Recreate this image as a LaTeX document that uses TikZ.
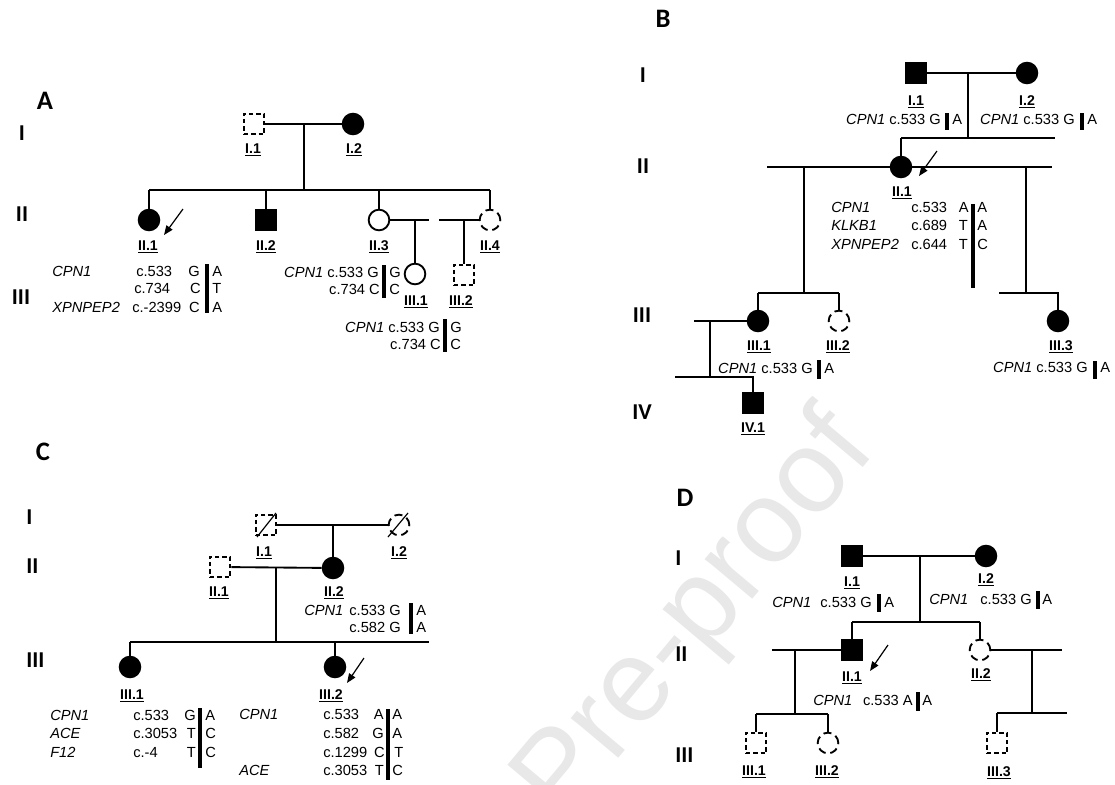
\documentclass[tikz,border=0pt]{standalone}
\usepackage{fontspec}
\setmainfont{Liberation Sans}
\newfontfamily\carl{Carlito}
\usetikzlibrary{arrows.meta}
\newcommand\gfont{\fontsize{11}{13}\selectfont}
\newcommand\lfont{\bfseries\fontsize{10.6}{12}\selectfont}
\newcommand\nfont{\carl\bfseries\fontsize{17}{20}\selectfont}
\newcommand\pfont{\carl\bfseries\fontsize{20}{24}\selectfont}
\tikzset{
  ln/.style={line width=1.4pt},
  sq/.style={rectangle, minimum size=15.5pt, inner sep=0pt, line width=1.4pt},
  fsq/.style={sq, draw, fill=black},
  dsq/.style={sq, draw, dash pattern=on 3.4pt off 2.2pt},
  ci/.style={circle, minimum size=15.5pt, inner sep=0pt, line width=1.4pt},
  fci/.style={ci, draw, fill=black},
  oci/.style={ci, draw},
  dci/.style={ci, draw, dash pattern=on 6pt off 3.5pt},
  lab/.style={font=\lfont, inner sep=0pt, anchor=base},
  gw/.style={font=\gfont, inner sep=0pt, anchor=base west},
  ge/.style={font=\gfont, inner sep=0pt, anchor=base east},
  gi/.style={font=\gfont\itshape, inner sep=0pt, anchor=base west},
  gbar/.style={line width=2.6pt},
  gnum/.style={font=\nfont, inner sep=0pt},
  pan/.style={font=\pfont, inner sep=0pt},
  arr/.style={line width=0.9pt, -{Triangle[length=7pt,width=5.5pt]}},
  slash/.style={line width=0.9pt},
  wm/.style={font=\fontsize{88}{90}\selectfont, text=black!9, inner sep=0pt}
}
\begin{document}
\begin{tikzpicture}[x=0.75pt,y=-0.75pt]
\useasboundingbox (0,0) rectangle (1115,785);
\begin{scope}
\clip (0,0) rectangle (1115,785);
\node[wm, rotate=50] (wm) at (697,618) {Pre-proof};
\end{scope}

% ================= Panel A =================
\node[pan] (A) at (45,101) {A};
\node[gnum] (A-gI) at (22,133) {I};
\node[gnum] (A-gII) at (22,214) {II};
\node[gnum] (A-gIII) at (21,297) {III};

\node[dsq] (A-I1) at (254,124) {};
\node[fci] (A-I2) at (353,124) {};
\node[fci] (A-II1) at (149,220) {};
\node[fsq] (A-II2) at (266,220) {};
\node[oci] (A-II3) at (379,220) {};
\node[dci] (A-II4) at (490,220) {};
\node[oci] (A-III1) at (415,274) {};
\node[dsq] (A-III2) at (464,275) {};

\coordinate (A-m1) at (304,124);
\coordinate (A-s) at (304,190);
\coordinate (A-m3e) at (429,220);
\coordinate (A-m4s) at (439,220);
\coordinate (A-d3) at (415,220);
\coordinate (A-d4) at (464,220);
\draw[ln] (A-I1) -- (A-I2);
\draw[ln] (A-m1) -- (A-s);
\draw[ln] (A-II1 |- A-s) -- (A-II4 |- A-s);
\draw[ln] (A-II1 |- A-s) -- (A-II1);
\draw[ln] (A-II2 |- A-s) -- (A-II2);
\draw[ln] (A-II3 |- A-s) -- (A-II3);
\draw[ln] (A-II4 |- A-s) -- (A-II4);
\draw[ln] (A-II3) -- (A-m3e);
\draw[ln] (A-m4s) -- (A-II4);
\draw[ln] (A-d3) -- (A-III1);
\draw[ln] (A-d4) -- (A-III2);
\coordinate (A-arS) at (183,209);
\coordinate (A-arE) at (164,235);
\draw[arr] (A-arS) -- (A-arE);

\node[lab] (A-lI1) at (253,153) {\underline{I.1}};
\node[lab] (A-lI2) at (354,153) {\underline{I.2}};
\node[lab] (A-lII1) at (148,250) {\underline{II.1}};
\node[lab] (A-lII2) at (266,250) {\underline{II.2}};
\node[lab] (A-lII3) at (379,250) {\underline{II.3}};
\node[lab] (A-lII4) at (490,250) {\underline{II.4}};
\node[lab] (A-lIII1) at (416,305) {\underline{III.1}};
\node[lab] (A-lIII2) at (461,305) {\underline{III.2}};

% genotype II.1
\node[gi] (A-g1a) at (52,276) {CPN1};
\node[gw] (A-g1b) at (136,276) {c.533};
\node[ge] (A-g1c) at (200,276) {G};
\node[gw] (A-g1d) at (212,276) {A};
\node[gw] (A-g2b) at (134,293) {c.734};
\node[ge] (A-g2c) at (201,293) {C};
\node[gw] (A-g2d) at (212,293) {T};
\node[gi] (A-g3a) at (52,312) {XPNPEP2};
\node[gw] (A-g3b) at (132,312) {c.-2399};
\node[ge] (A-g3c) at (200,312) {C};
\node[gw] (A-g3d) at (212,312) {A};
\coordinate (A-b1t) at (207,264);
\coordinate (A-b1b) at (207,313);
\draw[gbar] (A-b1t) -- (A-b1b);
% genotype II.3
\node[ge] (A-h1) at (379,277) {\textit{CPN1} c.533 G};
\node[gw] (A-h1r) at (389,277) {G};
\node[ge] (A-h2) at (380,294) {c.734 C};
\node[gw] (A-h2r) at (389,294) {C};
\coordinate (A-b2t) at (384,265);
\coordinate (A-b2b) at (384,298);
\draw[gbar] (A-b2t) -- (A-b2b);
% genotype III.1
\node[ge] (A-k1) at (440,332) {\textit{CPN1} c.533 G};
\node[gw] (A-k1r) at (450,332) {G};
\node[ge] (A-k2) at (441,349) {c.734 C};
\node[gw] (A-k2r) at (450,349) {C};
\coordinate (A-b3t) at (445,319);
\coordinate (A-b3b) at (445,352);
\draw[gbar] (A-b3t) -- (A-b3b);

% ================= Panel B =================
\node[pan] (B) at (663,19) {B};
\node[gnum] (B-gI) at (643,75) {I};
\node[gnum] (B-gII) at (643,166) {II};
\node[gnum] (B-gIII) at (642,315) {III};
\node[gnum] (B-gIV) at (642,412) {IV};

\node[fsq] (B-I1) at (916,73) {};
\node[fci] (B-I2) at (1027,73) {};
\node[fci] (B-II1) at (901,167) {};
\node[fci] (B-III1) at (758,321) {};
\node[dci] (B-III2) at (839,321) {};
\node[fci] (B-III3) at (1058,321) {};
\node[fsq] (B-IV1) at (753,403) {};

\coordinate (B-m1) at (968,73);
\coordinate (B-s1) at (968,138);
\coordinate (B-s1L) at (901,138);
\coordinate (B-s1R) at (1055,138);
\coordinate (B-IIL) at (767,167);
\coordinate (B-IIR) at (1052,167);
\coordinate (B-dL) at (804,167);
\coordinate (B-sL) at (804,293);
\coordinate (B-dR) at (1026,167);
\coordinate (B-sR) at (1026,293);
\coordinate (B-sRL) at (999,293);
\coordinate (B-m3L) at (694,321);
\coordinate (B-d3) at (710,321);
\coordinate (B-s4) at (710,377);
\coordinate (B-s4L) at (675,377);
\draw[ln] (B-I1) -- (B-I2);
\draw[ln] (B-m1) -- (B-s1);
\draw[ln] (B-s1L) -- (B-s1R);
\draw[ln] (B-s1L) -- (B-II1);
\draw[ln] (B-IIL) -- (B-II1);
\draw[ln] (B-II1) -- (B-IIR);
\draw[ln] (B-dL) -- (B-sL);
\draw[ln] (B-III1 |- B-sL) -- (B-III2 |- B-sL);
\draw[ln] (B-III1 |- B-sL) -- (B-III1);
\draw[ln] (B-III2 |- B-sL) -- (B-III2);
\draw[ln] (B-dR) -- (B-sR);
\draw[ln] (B-sRL) -- (B-III3 |- B-sR) -- (B-III3);
\draw[ln] (B-III1) -- (B-m3L);
\draw[ln] (B-d3) -- (B-s4);
\draw[ln] (B-s4L) -- (B-IV1 |- B-s4) -- (B-IV1);
\coordinate (B-arS) at (937,151);
\coordinate (B-arE) at (919,176);
\draw[arr] (B-arS) -- (B-arE);

\node[lab] (B-lI1) at (916,105) {\underline{I.1}};
\node[lab] (B-lI2) at (1027,105) {\underline{I.2}};
\node[lab] (B-lII1) at (902,196) {\underline{II.1}};
\node[lab] (B-lIII1) at (759,350) {\underline{III.1}};
\node[lab] (B-lIII2) at (838,350) {\underline{III.2}};
\node[lab] (B-lIII3) at (1061,350) {\underline{III.3}};
\node[lab] (B-lIV1) at (753,432) {\underline{IV.1}};

\node[ge] (B-g1) at (941,124) {\textit{CPN1} c.533 G};
\node[gw] (B-g1r) at (952,124) {A};
\coordinate (B-b1t) at (947,113);
\coordinate (B-b1b) at (947,130);
\draw[gbar] (B-b1t) -- (B-b1b);
\node[ge] (B-g2) at (1075,124) {\textit{CPN1} c.533 G};
\node[gw] (B-g2r) at (1087,124) {A};
\coordinate (B-b2t) at (1082,113);
\coordinate (B-b2b) at (1082,130);
\draw[gbar] (B-b2t) -- (B-b2b);

\node[gi] (B-h1a) at (831,212) {CPN1};
\node[gw] (B-h1b) at (911,212) {c.533};
\node[ge] (B-h1c) at (969,212) {A};
\node[gw] (B-h1d) at (977,212) {A};
\node[gi] (B-h2a) at (831,230) {KLKB1};
\node[gw] (B-h2b) at (911,230) {c.689};
\node[ge] (B-h2c) at (968,230) {T};
\node[gw] (B-h2d) at (977,230) {A};
\node[gi] (B-h3a) at (831,249) {XPNPEP2};
\node[gw] (B-h3b) at (911,249) {c.644};
\node[ge] (B-h3c) at (968,249) {T};
\node[gw] (B-h3d) at (977,249) {C};
\coordinate (B-b3t) at (973,204);
\coordinate (B-b3b) at (973,288);
\draw[gbar] (B-b3t) -- (B-b3b);

\node[ge] (B-k1) at (813,373) {\textit{CPN1} c.533 G};
\node[gw] (B-k1r) at (824,373) {A};
\coordinate (B-b4t) at (819,360);
\coordinate (B-b4b) at (819,379);
\draw[gbar] (B-b4t) -- (B-b4b);
\node[ge] (B-k2) at (1088,372) {\textit{CPN1} c.533 G};
\node[gw] (B-k2r) at (1100,372) {A};
\coordinate (B-b5t) at (1095,361);
\coordinate (B-b5b) at (1095,379);
\draw[gbar] (B-b5t) -- (B-b5b);

% ================= Panel C =================
\node[pan] (C) at (43,452) {C};
\node[gnum, anchor=west] (C-gI) at (26,517) {I};
\node[gnum, anchor=west] (C-gII) at (26,566) {II};
\node[gnum, anchor=west] (C-gIII) at (26,660) {III};

\node[dsq] (C-I1) at (266,525) {};
\node[dci] (C-I2) at (399,525) {};
\node[dsq] (C-II1) at (220,567) {};
\node[fci] (C-II2) at (333,568) {};
\node[fci] (C-III1) at (130,667) {};
\node[fci] (C-III2) at (335,667) {};
\draw[slash] ([shift={(-9,12)}]C-I1.center) -- ([shift={(10,-12)}]C-I1.center);
\draw[slash] ([shift={(-11,12)}]C-I2.center) -- ([shift={(9,-12)}]C-I2.center);

\coordinate (C-m1) at (333,525);
\coordinate (C-m2) at (276,567);
\coordinate (C-s3) at (276,642);
\coordinate (C-s3R) at (429,642);
\draw[ln] (C-I1) -- (C-I2);
\draw[ln] (C-m1) -- (C-II2);
\draw[ln] (C-II1) -- (C-II2);
\draw[ln] (C-m2) -- (C-s3);
\draw[ln] (C-III1 |- C-s3) -- (C-s3R);
\draw[ln] (C-III1 |- C-s3) -- (C-III1);
\draw[ln] (C-III2 |- C-s3) -- (C-III2);
\coordinate (C-arS) at (364,658);
\coordinate (C-arE) at (347,683);
\draw[arr] (C-arS) -- (C-arE);

\node[lab] (C-lI1) at (264,556) {\underline{I.1}};
\node[lab] (C-lI2) at (399,556) {\underline{I.2}};
\node[lab] (C-lII1) at (219,596) {\underline{II.1}};
\node[lab] (C-lII2) at (334,596) {\underline{II.2}};
\node[lab] (C-lIII1) at (132,699) {\underline{III.1}};
\node[lab] (C-lIII2) at (331,699) {\underline{III.2}};

\node[gi] (C-g1a) at (304,615) {CPN1};
\node[ge] (C-g1b) at (401,615) {c.533 G};
\node[gw] (C-g1r) at (416,615) {A};
\node[ge] (C-g2b) at (401,632) {c.582 G};
\node[gw] (C-g2r) at (416,632) {A};
\coordinate (C-b1t) at (411,603);
\coordinate (C-b1b) at (411,634);
\draw[gbar] (C-b1t) -- (C-b1b);

\node[gi] (C-h1a) at (50,720) {CPN1};
\node[gw] (C-h1b) at (133,720) {c.533};
\node[ge] (C-h1c) at (196,720) {G};
\node[gw] (C-h1d) at (205,720) {A};
\node[gi] (C-h2a) at (50,738) {ACE};
\node[gw] (C-h2b) at (133,738) {c.3053};
\node[ge] (C-h2c) at (196,738) {T};
\node[gw] (C-h2d) at (205,738) {C};
\node[gi] (C-h3a) at (50,757) {F12};
\node[gw] (C-h3b) at (133,757) {c.-4};
\node[ge] (C-h3c) at (196,757) {T};
\node[gw] (C-h3d) at (205,757) {C};
\coordinate (C-b2t) at (200,708);
\coordinate (C-b2b) at (200,768);
\draw[gbar] (C-b2t) -- (C-b2b);

\node[gi] (C-k1a) at (239,719) {CPN1};
\node[gw] (C-k1b) at (323,719) {c.533};
\node[ge] (C-k1c) at (384,719) {A};
\node[gw] (C-k1d) at (392,719) {A};
\node[gw] (C-k2b) at (323,738) {c.582};
\node[ge] (C-k2c) at (384,738) {G};
\node[gw] (C-k2d) at (392,738) {A};
\node[gw] (C-k3b) at (323,757) {c.1299};
\node[ge] (C-k3c) at (385,757) {C};
\node[gw] (C-k3d) at (394,757) {T};
\node[gi] (C-k4a) at (239,775) {ACE};
\node[gw] (C-k4b) at (323,775) {c.3053};
\node[ge] (C-k4c) at (384,775) {T};
\node[gw] (C-k4d) at (392,775) {C};
\coordinate (C-b3t) at (388,709);
\coordinate (C-b3b) at (388,780);
\draw[gbar] (C-b3t) -- (C-b3b);

% ================= Panel D =================
\node[pan] (D) at (685,498) {D};
\node[gnum, anchor=west] (D-gI) at (675,558) {I};
\node[gnum, anchor=west] (D-gII) at (675,654) {II};
\node[gnum, anchor=west] (D-gIII) at (675,755) {III};

\node[fsq] (D-I1) at (852,556) {};
\node[fci] (D-I2) at (986,556) {};
\node[fsq] (D-II1) at (852,650) {};
\node[dci] (D-II2) at (980,650) {};
\node[dsq] (D-III1) at (756,743) {};
\node[dci] (D-III2) at (828,743) {};
\node[dsq] (D-III3) at (997,743) {};

\coordinate (D-m1) at (920,556);
\coordinate (D-s2) at (920,622);
\coordinate (D-m2L) at (772,650);
\coordinate (D-d2) at (795,650);
\coordinate (D-s3) at (795,714);
\coordinate (D-m3R) at (1062,650);
\coordinate (D-d3) at (1032,650);
\coordinate (D-s4) at (1032,713);
\coordinate (D-s4R) at (1067,713);
\draw[ln] (D-I1) -- (D-I2);
\draw[ln] (D-m1) -- (D-s2);
\draw[ln] (D-II1 |- D-s2) -- (D-II2 |- D-s2);
\draw[ln] (D-II1 |- D-s2) -- (D-II1);
\draw[ln] (D-II2 |- D-s2) -- (D-II2);
\draw[ln] (D-m2L) -- (D-II1);
\draw[ln] (D-d2) -- (D-s3);
\draw[ln] (D-III1 |- D-s3) -- (D-III2 |- D-s3);
\draw[ln] (D-III1 |- D-s3) -- (D-III1);
\draw[ln] (D-III2 |- D-s3) -- (D-III2);
\draw[ln] (D-II2) -- (D-m3R);
\draw[ln] (D-d3) -- (D-s4);
\draw[ln] (D-III3 |- D-s4) -- (D-s4R);
\draw[ln] (D-III3 |- D-s4) -- (D-III3);
\coordinate (D-arS) at (888,645);
\coordinate (D-arE) at (870,671);
\draw[arr] (D-arS) -- (D-arE);

\node[lab] (D-lI1) at (852,586) {\underline{I.1}};
\node[lab] (D-lI2) at (986,583) {\underline{I.2}};
\node[lab] (D-lII1) at (852,681) {\underline{II.1}};
\node[lab] (D-lII2) at (981,678) {\underline{II.2}};
\node[lab] (D-lIII1) at (754,775) {\underline{III.1}};
\node[lab] (D-lIII2) at (827,775) {\underline{III.2}};
\node[lab] (D-lIII3) at (999,776) {\underline{III.3}};

\node[gi] (D-g1a) at (772,607) {CPN1};
\node[ge] (D-g1b) at (872,607) {c.533 G};
\node[gw] (D-g1r) at (884,607) {A};
\coordinate (D-b1t) at (879,594);
\coordinate (D-b1b) at (879,612);
\draw[gbar] (D-b1t) -- (D-b1b);
\node[gi] (D-g2a) at (929,604) {CPN1};
\node[ge] (D-g2b) at (1032,604) {c.533 G};
\node[gw] (D-g2r) at (1042,604) {A};
\coordinate (D-b2t) at (1038,591);
\coordinate (D-b2b) at (1038,609);
\draw[gbar] (D-b2t) -- (D-b2b);
\node[gi] (D-g3a) at (813,705) {CPN1};
\node[ge] (D-g3b) at (913,705) {c.533 A};
\node[gw] (D-g3r) at (922,705) {A};
\coordinate (D-b3t) at (918,692);
\coordinate (D-b3b) at (918,711);
\draw[gbar] (D-b3t) -- (D-b3b);
\end{tikzpicture}
\end{document}
